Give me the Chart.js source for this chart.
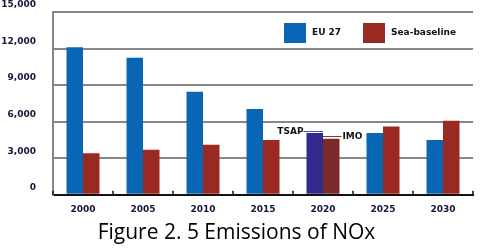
<!DOCTYPE html>
<html>
<head>
<title>Emissions of NOx</title>
<script src="https://cdn.jsdelivr.net/npm/chart.js@4.4.1/dist/chart.umd.min.js"></script>
<style>
body { margin:0; background:#fff; }
</style>
</head>
<body>
<div style="width:480px;height:248px;">
<canvas id="nox"></canvas>
</div>

<script>
var years = ['2000', '2005', '2010', '2015', '2020', '2025', '2030'];
var eu27 = [12100, 11250, 8450, 7050, 5080, 5080, 4500];
var seaBaseline = [3400, 3700, 4100, 4500, 4600, 5600, 6080];
var yTicks = [0, 3000, 6000, 9000, 12000, 15000];
var markLabels = ['TSAP', 'IMO'];
var markValues = [5250, 4840];
var markYear = '2020';

var blue = '#0866b4', navy = '#2f2a8c';
var red = '#9a2a21', darkRed = '#7a2b2a';
var labelColor = '#15153a';

// small upward ticks between categories
var catTicks = {
	id: 'catTicks',
	afterDatasetsDraw: function(chart){
		var x = chart.scales.x, c = chart.ctx;
		var step = x.width / years.length;
		c.save();
		c.strokeStyle = '#111';
		c.lineWidth = 1.5;
		for (var i = 0; i <= years.length; i++) {
			var px = Math.round(x.left + i * step);
			c.beginPath();
			c.moveTo(px, x.top - 4);
			c.lineTo(px, x.top);
			c.stroke();
		}
		c.restore();
	}
};

// TSAP / IMO marks over the 2020 bars
var marks = {
	id: 'marks',
	afterDatasetsDraw: function(chart){
		var c = chart.ctx, y = chart.scales.y;
		var idx = years.indexOf(markYear);
		c.save();
		c.font = 'bold 9px "DejaVu Sans"';
		c.textBaseline = 'middle';
		c.fillStyle = '#111';
		// TSAP on EU 27 bar
		var b = chart.getDatasetMeta(0).data[idx];
		var py = Math.round(y.getPixelForValue(markValues[0])) + 0.5;
		c.strokeStyle = '#2560b0';
		c.lineWidth = 1;
		c.beginPath();
		c.moveTo(b.x - b.width / 2 - 3, py);
		c.lineTo(b.x + b.width / 2, py);
		c.stroke();
		c.textAlign = 'right';
		c.fillText(markLabels[0], b.x - b.width / 2 - 3, py);
		// IMO on sea bar
		b = chart.getDatasetMeta(1).data[idx];
		py = Math.round(y.getPixelForValue(markValues[1])) + 0.5;
		c.strokeStyle = '#9a3030';
		c.beginPath();
		c.moveTo(b.x - b.width / 2, py);
		c.lineTo(b.x + b.width / 2 + 2, py);
		c.stroke();
		c.textAlign = 'left';
		c.fillText(markLabels[1], b.x + b.width / 2 + 3, py);
		c.restore();
	}
};

// legend inside the plot, top right
var innerLegend = {
	id: 'innerLegend',
	afterDraw: function(chart){
		var c = chart.ctx, a = chart.chartArea;
		var items = [
			{ text: chart.data.datasets[0].label, color: blue, x: a.right - 189 },
			{ text: chart.data.datasets[1].label, color: red, x: a.right - 110 }
		];
		c.save();
		c.font = 'bold 9px "DejaVu Sans"';
		c.textBaseline = 'middle';
		c.textAlign = 'left';
		items.forEach(function(it){
			c.fillStyle = it.color;
			c.fillRect(it.x, a.top + 11, 22, 20);
			c.fillStyle = '#111';
			c.fillText(it.text, it.x + 28, a.top + 21);
		});
		c.restore();
	}
};

var ctx = document.getElementById('nox').getContext('2d');
var chart = new Chart(ctx, {
	type: 'bar',
	data: {
		labels: years,
		datasets: [
			{
				label: 'EU 27',
				data: eu27,
				backgroundColor: years.map(function(y){ return y === markYear ? navy : blue; })
			},
			{
				label: 'Sea-baseline',
				data: seaBaseline,
				backgroundColor: years.map(function(y){ return y === markYear ? darkRed : red; })
			}
		]
	},
	options: {
		responsive: true,
		maintainAspectRatio: false,
		animation: false,
		layout: { padding: { top: 12, right: 7, left: 0, bottom: 1 } },
		datasets: { bar: { categoryPercentage: 0.55, barPercentage: 1 } },
		plugins: {
			legend: { display: false },
			tooltip: { enabled: false },
			title: {
				display: true,
				position: 'bottom',
				text: 'Figure 2. 5 Emissions of NOx',
				color: '#000',
				font: { family: '"Open Sans"', size: 21, weight: 'normal' },
				padding: { top: 2, bottom: 1 }
			}
		},
		scales: {
			x: {
				grid: { display: false, drawTicks: false },
				border: { color: '#111', width: 2 },
				ticks: {
					color: labelColor,
					padding: 9,
					font: { family: '"DejaVu Sans"', size: 9, weight: 'bold' }
				},
				afterFit: function(s){ s.height = 24; }
			},
			y: {
				min: 0,
				max: 15000,
				afterBuildTicks: function(s){ s.ticks = yTicks.map(function(v){ return { value: v }; }); },
				grid: {
					drawTicks: false,
					lineWidth: 2,
					color: function(c){ return c.tick && c.tick.value === 0 ? 'rgba(0,0,0,0)' : '#888'; }
				},
				border: { color: '#888', width: 2 },
				ticks: {
					color: labelColor,
					padding: 17,
					labelOffset: -7,
					font: { family: '"DejaVu Sans"', size: 9, weight: 'bold' },
					callback: function(v){ return v.toLocaleString('en-US'); }
				},
				afterFit: function(s){ s.width = 53; s.paddingTop = 0; s.paddingBottom = 0; }
			}
		}
	},
	plugins: [catTicks, marks, innerLegend]
});
</script>
</body>
</html>
